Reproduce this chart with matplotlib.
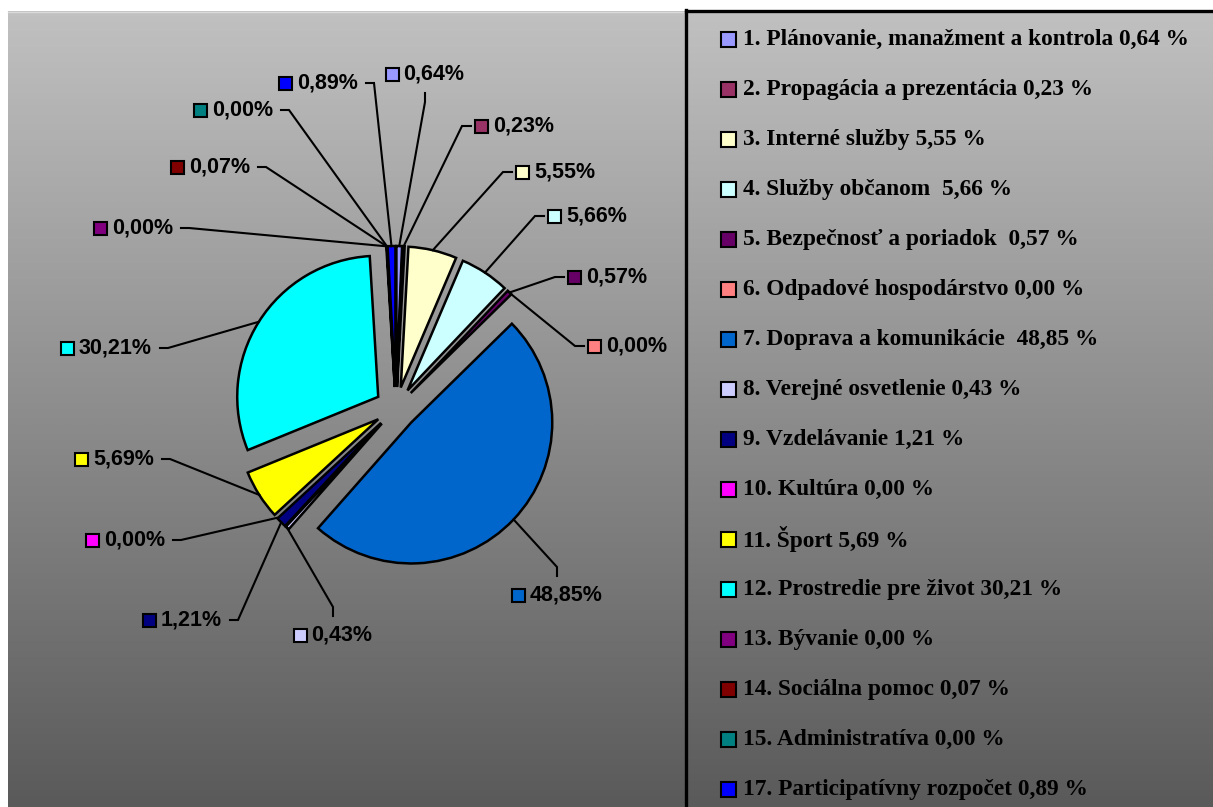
import matplotlib.pyplot as plt
import numpy as np
from matplotlib.colors import LinearSegmentedColormap
from matplotlib.patches import Rectangle

plt.rcParams['font.family'] = ['Liberation Sans', 'DejaVu Sans']

categories = ["1. Plánovanie, manažment a kontrola", "2. Propagácia a prezentácia",
              "3. Interné služby", "4. Služby občanom ", "5. Bezpečnosť a poriadok ",
              "6. Odpadové hospodárstvo", "7. Doprava a komunikácie ",
              "8. Verejné osvetlenie", "9. Vzdelávanie", "10. Kultúra", "11. Šport",
              "12. Prostredie pre život", "13. Bývanie", "14. Sociálna pomoc",
              "15. Administratíva", "17. Participatívny rozpočet"]
shares = [0.64, 0.23, 5.55, 5.66, 0.57, 0.00, 48.85, 0.43, 1.21, 0.00, 5.69,
          30.21, 0.00, 0.07, 0.00, 0.89]
colors = ['#9999ff', '#993366', '#ffffcc', '#ccffff', '#660066', '#ff8080',
          '#0066cc', '#ccccff', '#000080', '#ff00ff', '#ffff00', '#00ffff',
          '#800080', '#800000', '#008080', '#0000ff']

W, H = 1213, 807
# where each data label sits (pixels from top-left) and which side the leader comes from
label_layout = [('t', 425, 74), ('r', 475, 126), ('r', 516, 172), ('r', 548, 216),
                ('r', 568, 277), ('r', 588, 346), ('b', 557, 595), ('b', 333, 635),
                ('l', 222, 620), ('l', 165, 540), ('l', 154, 459), ('l', 152, 348),
                ('l', 173, 228), ('l', 250, 167), ('l', 273, 110), ('l', 358, 83)]


def fmt(v):
    return f"{v:.2f}".replace('.', ',')


fig = plt.figure(figsize=(W / 100, H / 100), dpi=100, facecolor='white')
ax = fig.add_axes([0, 0, 1, 1])

# gray gradient behind plot area and legend
grad = np.linspace(0, 1, 256).reshape(-1, 1)
cmap = LinearSegmentedColormap.from_list('bg', ['#5a5a5a', '#c0c0c0'])
ax.imshow(grad, extent=(8, W, 0, H - 11), origin='lower', cmap=cmap,
          aspect='auto', zorder=0, interpolation='bilinear')
ax.plot([8, 685], [H - 11.5, H - 11.5], color='#dadada', lw=1, zorder=1)

wedges, _ = ax.pie(shares, colors=colors, startangle=90, counterclock=False,
                   explode=[21] * len(shares), center=(396, H - 408), radius=141,
                   wedgeprops=dict(edgecolor='black', linewidth=1.8))
for w, v in zip(wedges, shares):
    w.set_zorder(3)
    if v == 0:
        w.set_visible(False)

renderer = fig.canvas.get_renderer()
for w, v, c, (side, lx, ly) in zip(wedges, shares, colors, label_layout):
    mid = np.deg2rad((w.theta1 + w.theta2) / 2)
    ax_, ay_ = w.center[0] + w.r * np.cos(mid), w.center[1] + w.r * np.sin(mid)
    y = H - ly
    t = ax.text(0, y, fmt(v) + '%', fontsize=15.5, fontweight='bold',
                ha='left', va='center', zorder=5)
    tw = t.get_window_extent(renderer=renderer).width
    if side == 'r':
        sq = lx
        ex, ey = sq - 4, y
        bx, by = sq - 13, y
    elif side == 'l':
        sq = lx - tw - 18
        ex, ey = lx + 8, y
        bx, by = lx + 16, y
    elif side == 'b':
        sq = lx - (tw + 18) / 2
        ex, ey = lx, y + 19
        bx, by = lx, y + 28
    else:
        sq = lx - (tw + 18) / 2
        ex, ey = lx, y - 19
        bx, by = lx, y - 28
    t.set_x(sq + 18)
    ax.add_patch(Rectangle((sq, y - 6.5), 13, 13, fc=c, ec='black', lw=1.5, zorder=5))
    ax.plot([ax_, bx, ex], [ay_, by, ey], color='black', lw=1.5, zorder=4,
            solid_joinstyle='miter')

# legend box
ax.plot([686, 686], [0, H - 10], color='black', lw=2.4, zorder=6)
ax.plot([686, W], [H - 11, H - 11], color='black', lw=2.4, zorder=6)
for i, (name, v, c) in enumerate(zip(categories, shares, colors)):
    y = H - (39 + i * 50)
    ax.add_patch(Rectangle((721, y - 7.5), 15, 15, fc=c, ec='black', lw=1.5, zorder=6))
    ax.text(743, y, f"{name} {fmt(v)} %", fontsize=16.8, fontweight='bold',
            family=['Liberation Serif', 'DejaVu Serif'], ha='left', va='center', zorder=6)

ax.set_xlim(0, W)
ax.set_ylim(0, H)
ax.set_aspect('auto')
ax.axis('off')

fig.savefig('out.png', dpi=100, facecolor='white')
